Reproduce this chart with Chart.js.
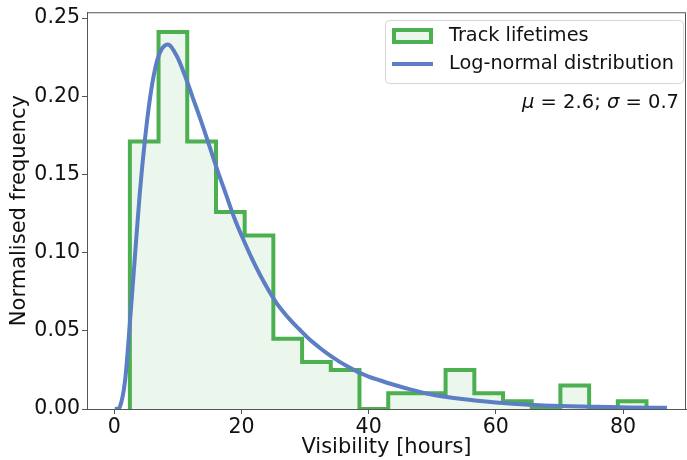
<!DOCTYPE html>
<html>
<head>
<meta charset="utf-8">
<script src="https://cdn.jsdelivr.net/npm/chart.js@4.4.1/dist/chart.umd.min.js"></script>
<style>
  html, body { margin: 0; padding: 0; background: #fff; overflow: hidden; }
  #wrap { width: 687px; height: 460px; }
</style>
</head>
<body>
<div id="wrap"><canvas id="chart" width="687" height="460"></canvas></div>
<script>
// histogram: bin edges (hours) and normalised frequency per bin
const binEdges = [2.46, 6.97, 11.48, 16.0, 20.51, 25.02, 29.54, 34.05, 38.56, 43.08,
                  47.59, 52.10, 56.62, 61.13, 65.64, 70.15, 74.67, 79.18, 83.69];
const binHeights = [0.171, 0.241, 0.171, 0.126, 0.111, 0.045, 0.030, 0.025, 0.000,
                    0.010, 0.010, 0.025, 0.010, 0.005, 0.000, 0.015, 0.000, 0.005];

// log-normal curve
const curveX = [0.1, 0.5, 0.9, 1.7, 2.5, 3.3, 4.0, 4.8, 5.6, 6.4, 7.2, 8.4, 9.8, 11.1, 12.4,
                13.7, 15.0, 16.3, 17.6, 18.9, 20.2, 21.6, 22.9, 24.2, 25.5, 27.6, 29.1,
                30.7, 32.3, 33.8, 35.4, 37.0, 38.5, 40.1, 41.7, 43.3, 46.0, 49.5, 54.7,
                60.0, 65.2, 70.4, 75.7, 80.9, 86.9];
const curveY = [0.000, 0.0001, 0.0015, 0.018, 0.057, 0.100, 0.137, 0.171, 0.198, 0.217,
                0.228, 0.233, 0.226, 0.2134, 0.1985, 0.1836, 0.1677, 0.1518, 0.1369, 0.122,
                0.1093, 0.0966, 0.086, 0.0764, 0.0679, 0.0573, 0.051, 0.0446, 0.0392, 0.0346,
                0.0303, 0.0265, 0.0233, 0.0206, 0.0184, 0.0163, 0.0131, 0.0096, 0.0064,
                0.0042, 0.0027, 0.0019, 0.0015, 0.0010, 0.0008];

const xTicks = [0, 20, 40, 60, 80];
const yTicks = [0.00, 0.05, 0.10, 0.15, 0.20, 0.25];

const seriesLabels = ['Track lifetimes', 'Log-normal distribution'];
const fitText = ['\u03bc', ' = 2.6; ', '\u03c3', ' = 0.7'];

const green = 'rgb(76,175,80)';
const greenFill = 'rgba(76,175,80,0.11)';
const blue = 'rgb(91,126,196)';
const axisColor = '#555';
const font = 'DejaVu Sans';

// step outline points for the histogram
const histPoints = [{x: binEdges[0], y: 0}];
binHeights.forEach((h, i) => histPoints.push({x: binEdges[i], y: h}));
histPoints.push({x: binEdges[binEdges.length - 1], y: 0});

const extras = {
  id: 'extras',
  afterDatasetsDraw(chart) {
    const c = chart.ctx;
    const a = chart.chartArea;
    c.save();
    // frame (all four spines)
    c.strokeStyle = axisColor;
    c.lineWidth = 1;
    c.strokeRect(a.left + 0.5, a.top + 0.5, a.right - a.left - 1, a.bottom - a.top);

    // legend
    const bx = 385, by = 20, bw = 298, bh = 63;
    c.beginPath();
    c.roundRect(bx + 0.5, by + 0.5, bw, bh, 4);
    c.fillStyle = 'rgba(255,255,255,0.8)';
    c.fill();
    c.strokeStyle = '#d6d6d6';
    c.lineWidth = 1;
    c.stroke();

    c.fillStyle = greenFill;
    c.fillRect(394, 30, 37, 12);
    c.strokeStyle = green;
    c.lineWidth = 4;
    c.strokeRect(394, 30, 37, 12);

    c.strokeStyle = blue;
    c.lineWidth = 4;
    c.beginPath();
    c.moveTo(392, 64);
    c.lineTo(433, 64);
    c.stroke();

    c.fillStyle = '#111';
    c.font = '19.3px "' + font + '"';
    c.textBaseline = 'middle';
    c.textAlign = 'left';
    c.fillText(seriesLabels[0], 449, 36);
    c.fillText(seriesLabels[1], 449, 64);

    // fit parameters, right aligned
    const styles = ['italic ', '', 'italic ', ''];
    const size = '19.5px "' + font + '"';
    const widths = fitText.map((t, i) => {
      c.font = styles[i] + size;
      return c.measureText(t).width;
    });
    let x = 679 - widths.reduce((s, w) => s + w, 0);
    fitText.forEach((t, i) => {
      c.font = styles[i] + size;
      c.fillText(t, x, 103);
      x += widths[i];
    });
    c.restore();
  }
};

new Chart(document.getElementById('chart'), {
  type: 'line',
  data: {
    datasets: [
      {
        label: seriesLabels[0],
        data: histPoints,
        stepped: 'before',
        borderColor: green,
        backgroundColor: greenFill,
        borderWidth: 4,
        fill: 'origin',
        pointRadius: 0,
        order: 1
      },
      {
        label: seriesLabels[1],
        data: curveX.map((x, i) => ({x: x, y: curveY[i]})),
        borderColor: blue,
        borderWidth: 4,
        fill: false,
        pointRadius: 0,
        cubicInterpolationMode: 'monotone',
        order: 0
      }
    ]
  },
  options: {
    responsive: false,
    animation: false,
    layout: { padding: { top: 10, right: 1, bottom: 0, left: 0 } },
    plugins: { legend: { display: false }, tooltip: { enabled: false } },
    scales: {
      x: {
        type: 'linear',
        min: -4.28,
        max: 89.9,
        afterBuildTicks: s => { s.ticks = xTicks.map(v => ({value: v})); },
        afterFit: s => { s.height = 51; },
        grid: { drawOnChartArea: false, drawTicks: true, tickLength: 5, color: axisColor },
        border: { display: true, color: axisColor },
        ticks: { color: '#111', font: { family: font, size: 20.5 }, padding: 1, maxRotation: 0 },
        title: { display: true, text: 'Visibility [hours]', color: '#111',
                 font: { family: font, size: 21 }, padding: { top: 0, bottom: 0 } }
      },
      y: {
        min: 0,
        max: 0.2537,
        afterBuildTicks: s => { s.ticks = yTicks.map(v => ({value: v})); },
        afterFit: s => { s.width = 87; },
        grid: { drawOnChartArea: false, drawTicks: true, tickLength: 5, color: axisColor },
        border: { display: true, color: axisColor },
        ticks: { color: '#111', font: { family: font, size: 20.5, lineHeight: 1 }, padding: 2,
                 callback: v => v.toFixed(2) },
        title: { display: true, text: 'Normalised frequency', color: '#111',
                 font: { family: font, size: 21 }, padding: { top: 7, bottom: 0 } }
      }
    }
  },
  plugins: [extras]
});
</script>
</body>
</html>
